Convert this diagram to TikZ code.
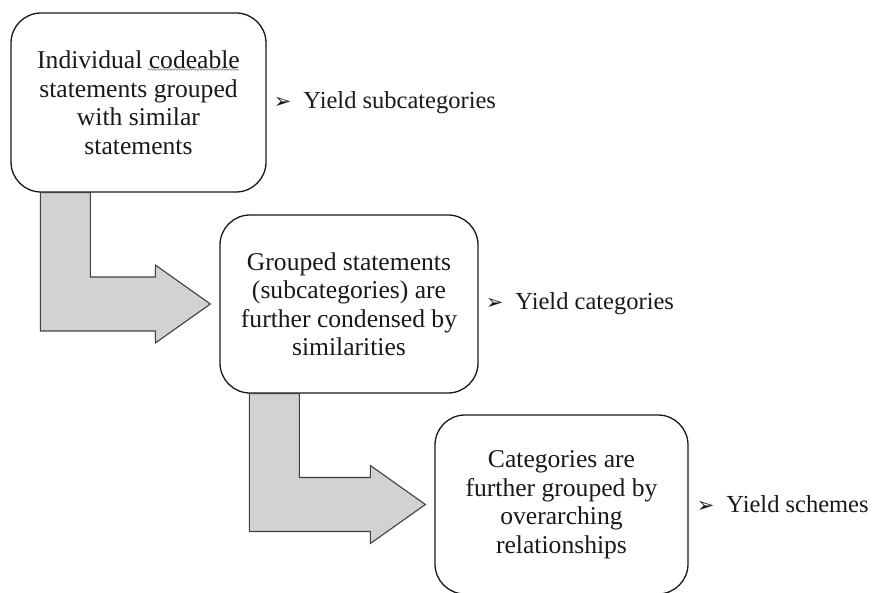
\documentclass[tikz,border=0pt]{standalone}
\usepackage{fontspec}
\setmainfont{Liberation Serif}
\newfontfamily\dejavu{DejaVu Sans}
\usetikzlibrary{calc,decorations.pathmorphing}
\newcommand{\bul}{{\dejavu\fontsize{21pt}{21pt}\selectfont ➢}}
\newcommand{\bentarr}[2]{%
  \filldraw[bentarrow] let \p1=(#1.south west), \p2=(#2.west) in
    (\x1+30pt,\y1) -- (\x1+80pt,\y1) -- (\x1+80pt,\y2+27pt) -- (\x2-64pt,\y2+27pt)
    -- (\x2-64pt,\y2+39pt) -- (\x2-9pt,\y2) -- (\x2-64pt,\y2-39pt)
    -- (\x2-64pt,\y2-27pt) -- (\x1+30pt,\y2-27pt) -- cycle;}
\begin{document}
\begin{tikzpicture}[x=1pt,y=1pt,
  box/.style={draw=black!90, line width=1.3pt, rounded corners=30pt, fill=white,
    align=center, inner sep=0pt, text=black!90,
    font=\fontsize{25.6pt}{28.5pt}\selectfont},
  bentarrow/.style={fill=gray!35, draw=black!75, line width=1.1pt, line join=miter},
  yield/.style={anchor=west, inner sep=0pt, text=black!90,
    font=\fontsize{24.5pt}{28pt}\selectfont}]
\useasboundingbox (0,0) rectangle (874,592);
\node[box, minimum width=255pt, minimum height=179pt] (b1) at (138.5,489.5)
  {Individual codeable\\statements grouped\\with similar\\statements};
\node[box, minimum width=258pt, minimum height=178pt] (b2) at (349,288)
  {Grouped statements\\(subcategories) are\\further condensed by\\similarities};
\node[box, minimum width=253pt, minimum height=179pt] (b3) at (561.5,87.5)
  {Categories are\\further grouped by\\overarching\\relationships};
\bentarr{b1}{b2}
\bentarr{b2}{b3}
\draw[gray, line width=0.6pt, decorate, decoration={snake, amplitude=0.8pt, segment length=3pt}]
  ($(b1.center)+(9,33)$) -- ($(b1.center)+(100,33)$);
\node[yield] (y1) at ($(b1.east)+(7,0)$) {\bul\hspace{12pt}Yield subcategories};
\node[yield] (y2) at ($(b2.east)+(7,0)$) {\bul\hspace{12pt}Yield categories};
\node[yield] (y3) at ($(b3.east)+(8,0)$) {\bul\hspace{12pt}Yield schemes};
\end{tikzpicture}
\end{document}
